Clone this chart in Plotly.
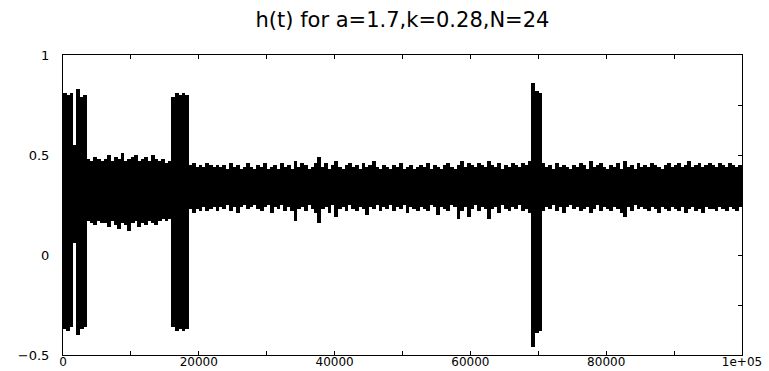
import plotly.graph_objects as go

# sampling grid of the envelope (time steps), one bin every 500 steps
t_bins = list(range(250, 100000, 500))

# upper envelope of h(t) in each bin
h_upper = (
    [0.81, 0.80, 0.81, 0.55, 0.83, 0.79, 0.80]
    + [0.48, 0.47, 0.49, 0.48, 0.47, 0.48, 0.50, 0.47, 0.49, 0.48, 0.51, 0.47, 0.48,
       0.49, 0.50, 0.47, 0.48, 0.49, 0.47, 0.50, 0.48, 0.47, 0.48, 0.46, 0.47]
    + [0.79, 0.81, 0.80, 0.81, 0.80]
    + [0.45, 0.46, 0.44, 0.45, 0.44, 0.46, 0.45, 0.44, 0.45,
       0.44, 0.45, 0.43, 0.46, 0.44, 0.45, 0.43, 0.44, 0.46, 0.44,
       0.43, 0.45, 0.44, 0.46, 0.43, 0.44, 0.45, 0.43, 0.46, 0.44,
       0.45, 0.43, 0.47, 0.44, 0.46, 0.45, 0.43, 0.44, 0.46, 0.49,
       0.44, 0.46, 0.43, 0.45, 0.47, 0.44, 0.43, 0.45, 0.46, 0.44,
       0.45, 0.43, 0.46, 0.44, 0.45, 0.47, 0.44, 0.43, 0.45, 0.44,
       0.43, 0.45, 0.44, 0.46, 0.43, 0.44, 0.45, 0.43, 0.44, 0.45,
       0.44, 0.46, 0.43, 0.45, 0.44, 0.43, 0.45, 0.46, 0.44, 0.43,
       0.45, 0.47, 0.44, 0.46, 0.45, 0.44, 0.46, 0.45, 0.44, 0.47,
       0.45, 0.44, 0.46, 0.43, 0.45, 0.44, 0.46, 0.45, 0.44, 0.46, 0.45, 0.47]
    + [0.86, 0.82, 0.81]
    + [0.46, 0.44, 0.45, 0.43, 0.46, 0.44, 0.45, 0.44, 0.43, 0.45,
       0.44, 0.46, 0.45, 0.43, 0.47, 0.44, 0.45, 0.46, 0.44, 0.43,
       0.45, 0.44, 0.46, 0.43, 0.47, 0.44, 0.45, 0.43, 0.46, 0.44,
       0.45, 0.44, 0.46, 0.45, 0.44, 0.43, 0.45, 0.46, 0.44, 0.45,
       0.46, 0.44, 0.45, 0.47, 0.44, 0.45, 0.46, 0.44, 0.45, 0.46,
       0.45, 0.44, 0.46, 0.45, 0.44, 0.46, 0.45, 0.44, 0.45]
)

# lower envelope of h(t) in each bin
h_lower = (
    [-0.37, -0.38, -0.36, 0.06, -0.40, -0.37, -0.36]
    + [0.17, 0.16, 0.15, 0.17, 0.16, 0.16, 0.14, 0.17, 0.15, 0.13, 0.16, 0.15, 0.12,
       0.16, 0.17, 0.14, 0.16, 0.15, 0.17, 0.16, 0.15, 0.17, 0.18, 0.17, 0.18]
    + [-0.36, -0.38, -0.37, -0.38, -0.37]
    + [0.23, 0.21, 0.23, 0.22, 0.24, 0.22, 0.23, 0.24, 0.22,
       0.24, 0.23, 0.25, 0.22, 0.24, 0.21, 0.24, 0.25, 0.23, 0.24,
       0.25, 0.23, 0.22, 0.24, 0.25, 0.21, 0.24, 0.23, 0.25, 0.22,
       0.24, 0.22, 0.17, 0.23, 0.24, 0.22, 0.25, 0.23, 0.21, 0.16,
       0.23, 0.24, 0.21, 0.25, 0.19, 0.23, 0.24, 0.22, 0.25, 0.23,
       0.22, 0.24, 0.23, 0.20, 0.24, 0.23, 0.25, 0.22, 0.24, 0.23,
       0.25, 0.22, 0.24, 0.23, 0.25, 0.21, 0.24, 0.23, 0.22, 0.24,
       0.23, 0.22, 0.25, 0.24, 0.20, 0.24, 0.23, 0.22, 0.25, 0.24,
       0.18, 0.22, 0.24, 0.19, 0.23, 0.25, 0.22, 0.24, 0.23, 0.18,
       0.23, 0.24, 0.21, 0.25, 0.23, 0.22, 0.24, 0.23, 0.25, 0.22, 0.23, 0.21]
    + [-0.46, -0.39, -0.38]
    + [0.22, 0.24, 0.23, 0.25, 0.22, 0.24, 0.21, 0.24, 0.25, 0.23,
       0.24, 0.22, 0.23, 0.24, 0.21, 0.23, 0.25, 0.22, 0.24, 0.23,
       0.22, 0.24, 0.23, 0.21, 0.19, 0.24, 0.22, 0.25, 0.23, 0.24,
       0.23, 0.22, 0.24, 0.23, 0.21, 0.24, 0.23, 0.22, 0.24, 0.23,
       0.22, 0.24, 0.21, 0.23, 0.24, 0.22, 0.23, 0.21, 0.24, 0.23,
       0.23, 0.22, 0.24, 0.23, 0.22, 0.24, 0.23, 0.22, 0.24]
)

x_tick_vals = [0, 10000, 20000, 30000, 40000, 50000, 60000, 70000, 80000, 90000, 100000]
x_tick_text = ["0", "", "20000", "", "40000", "", "60000", "", "80000", "", "1e+05"]
y_tick_vals = [-0.5, -0.25, 0, 0.25, 0.5, 0.75, 1]
y_tick_text = ["\u22120.5", "", "0", "", "0.5", "", "1"]

spans = [u - l for u, l in zip(h_upper, h_lower)]

fig = go.Figure()
fig.add_trace(go.Bar(
    x=t_bins, y=spans, base=h_lower, width=560,
    marker=dict(color="black", line=dict(width=0)),
    hoverinfo="skip", showlegend=False,
))

font_family = "DejaVu Sans, Liberation Sans, Arial, sans-serif"

fig.update_layout(
    width=769, height=371,
    margin=dict(l=63, r=27, t=55, b=16),
    paper_bgcolor="white", plot_bgcolor="white",
    bargap=0,
    title=dict(text="h(t) for a=1.7,k=0.28,N=24", x=0.5, xref="paper",
               y=1 - 20 / 371, yanchor="middle", yref="container",
               font=dict(family=font_family, size=21, color="black")),
    font=dict(family=font_family, size=13, color="black"),
)

fig.update_xaxes(
    range=[0, 100000], showgrid=False, zeroline=False, automargin=False,
    showline=True, linecolor="black", linewidth=1, mirror="ticks",
    ticks="inside", ticklen=4, tickcolor="black",
    tickmode="array", tickvals=x_tick_vals, ticktext=x_tick_text,
    tickfont=dict(size=12), ticklabelstandoff=-4,
)
fig.update_yaxes(
    range=[-0.5, 1], showgrid=False, zeroline=False, automargin=False,
    showline=True, linecolor="black", linewidth=1, mirror="ticks",
    ticks="inside", ticklen=4, tickcolor="black",
    tickmode="array", tickvals=y_tick_vals, ticktext=y_tick_text,
    tickfont=dict(size=13), ticklabelstandoff=10,
)

fig.write_html("out.html")
